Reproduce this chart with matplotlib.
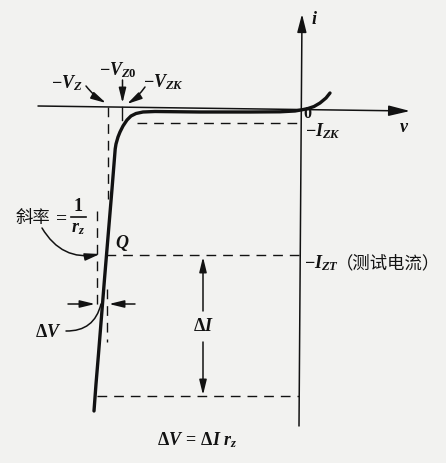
import matplotlib
matplotlib.use('Agg')
import matplotlib.pyplot as plt

# ---- data (diagram units: x to the right, y downward) ----
curve_x = [94, 96, 98.5, 100.5, 102.5, 104.5, 106.5, 108.5, 110.5, 112, 114, 115.2,
           116, 118, 120, 123, 127, 131, 136, 143, 155, 200, 250, 280, 295, 302,
           308, 314, 320, 326, 330]
curve_y = [412, 385, 355, 330, 305, 280, 256, 232, 208, 190, 165, 150,
           145, 138, 133, 127, 121, 117, 114.5, 113, 112.5, 113, 113, 112.8, 112, 110.8,
           109.5, 107.5, 104, 99, 94]

x_axis = ([38, 410], [107, 112])     # v axis (tail, tip)
y_axis = ([299, 302], [427, 15])     # i axis (tail, tip)

level_IZK = 124
level_IZT = 256
level_low = 397

BLACK = '#121212'

plt.rcParams['mathtext.fontset'] = 'custom'
plt.rcParams['mathtext.rm'] = 'Liberation Serif:bold'
plt.rcParams['mathtext.it'] = 'Liberation Serif:bold:italic'
plt.rcParams['mathtext.bf'] = 'Liberation Serif:bold'
plt.rcParams['font.family'] = ['Liberation Serif', 'DejaVu Sans']

fig = plt.figure(figsize=(4.46, 4.64), dpi=100)
fig.patch.set_facecolor('#f2f2f0')
ax = fig.add_axes([0, 0, 1, 1])
ax.set_xlim(0, 446)
ax.set_ylim(464, 0)
ax.axis('off')

# axes with arrows
ax.annotate('', xy=(x_axis[0][1], x_axis[1][1]), xytext=(x_axis[0][0], x_axis[1][0]),
            arrowprops=dict(arrowstyle='-|>,head_length=1.3,head_width=0.32', lw=1.1,
                            color=BLACK, shrinkA=0, shrinkB=0))
ax.annotate('', xy=(y_axis[0][1], y_axis[1][1]), xytext=(y_axis[0][0], y_axis[1][0]),
            arrowprops=dict(arrowstyle='-|>,head_length=1.1,head_width=0.28', lw=1.1,
                            color=BLACK, shrinkA=0, shrinkB=0))

# characteristic curve
ax.plot(curve_x, curve_y, color=BLACK, lw=2.4, solid_capstyle='round', solid_joinstyle='round')

dash = dict(color=BLACK, lw=1.0, dashes=(7, 5))
# horizontal dashed levels
ax.plot([137, 299], [level_IZK, level_IZK], **dash)
ax.plot([106, 300], [level_IZT, level_IZT], **dash)
ax.plot([97, 299], [level_low, level_low], **dash)
# vertical dashed lines
ax.plot([107.5, 107.5], [108, 200], **dash)
ax.plot([97, 97], [212, 312], **dash)
ax.plot([107, 107], [290, 343], **dash)
ax.plot([121.5, 121.5], [108, 121], color=BLACK, lw=1.0)

arrow_kw = dict(arrowstyle='-|>,head_length=0.9,head_width=0.22', lw=1.1, color=BLACK,
                shrinkA=0, shrinkB=0)

# -Vz, -Vz0, -Vzk arrows
ax.annotate('', xy=(106, 104), xytext=(86, 87),
            arrowprops=dict(connectionstyle='arc3,rad=0.1', **arrow_kw))
ax.annotate('', xy=(122.5, 104), xytext=(122.5, 81), arrowprops=dict(**arrow_kw))
ax.annotate('', xy=(127, 105), xytext=(145, 88),
            arrowprops=dict(connectionstyle='arc3,rad=-0.1', **arrow_kw))

# slope arrow
ax.annotate('', xy=(100, 255), xytext=(42, 229),
            arrowprops=dict(connectionstyle='arc3,rad=0.35', **arrow_kw))

# Delta V arrows
ax.annotate('', xy=(95, 305), xytext=(68, 305), arrowprops=dict(**arrow_kw))
ax.annotate('', xy=(109, 305), xytext=(135, 305), arrowprops=dict(**arrow_kw))
ax.annotate('', xy=(101, 305), xytext=(66, 332),
            arrowprops=dict(arrowstyle='-', lw=1.1, color=BLACK,
                            connectionstyle='arc3,rad=0.4', shrinkA=0, shrinkB=0))

# Delta I double arrow
ax.annotate('', xy=(203, 258), xytext=(203, 312), arrowprops=dict(**arrow_kw))
ax.annotate('', xy=(203, 396), xytext=(203, 343), arrowprops=dict(**arrow_kw))

# texts
fs = 13
cjk = ['Noto Sans CJK SC', 'DejaVu Sans']
ax.text(67, 83, r'$-V_Z$', fontsize=fs, ha='center', va='center', color=BLACK)
ax.text(118, 70, r'$-V_{Z0}$', fontsize=fs, ha='center', va='center', color=BLACK)
ax.text(164, 82, r'$-V_{ZK}$', fontsize=fs, ha='center', va='center', color=BLACK)
ax.text(314, 20, r'$i$', fontsize=fs, ha='center', va='center', color=BLACK)
ax.text(404, 127, r'$v$', fontsize=fs, ha='center', va='center', color=BLACK)
ax.text(307.5, 114, '0', fontsize=11.5, fontweight='bold', ha='center', va='center',
        color=BLACK)
ax.text(305, 131, r'$-I_{ZK}$', fontsize=fs, ha='left', va='center', color=BLACK)
ax.text(122, 243, r'$Q$', fontsize=fs, ha='center', va='center', color=BLACK)
ax.text(304, 263, r'$-I_{ZT}$', fontsize=fs, ha='left', va='center', color=BLACK)
ax.text(336, 263, '（测试电流）', fontsize=12.5, ha='left', va='center', color=BLACK,
        family=cjk)
ax.text(33, 218, '斜率', fontsize=12.5, ha='center', va='center', color=BLACK, family=cjk)
ax.text(60, 218, r'$=$', fontsize=14, ha='center', va='center', color=BLACK)
ax.text(78, 207, r'$\mathrm{1}$', fontsize=13, ha='center', va='center', color=BLACK)
ax.plot([71, 86], [217.5, 217.5], color=BLACK, lw=1.2)
ax.text(78, 229, r'$r_z$', fontsize=13, ha='center', va='center', color=BLACK)
ax.text(48, 333, r'$\Delta V$', fontsize=fs, ha='center', va='center', color=BLACK)
ax.text(203, 327, r'$\Delta I$', fontsize=fs, ha='center', va='center', color=BLACK)
ax.text(197, 440, r'$\Delta V\,=\,\Delta I\ r_z$', fontsize=fs, ha='center', va='center',
        color=BLACK)

fig.savefig('out.png', dpi=100, facecolor=fig.get_facecolor())
